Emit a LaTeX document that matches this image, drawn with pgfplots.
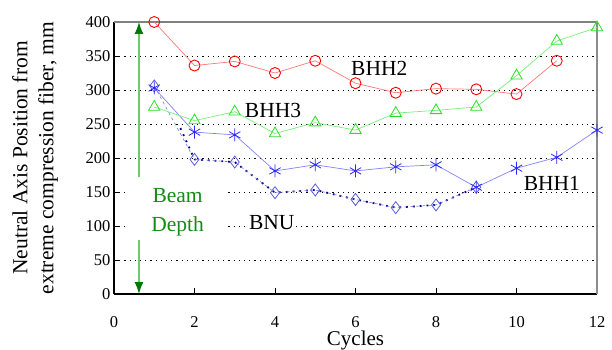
\documentclass[border=0pt]{standalone}
\usepackage{fontspec}
\setmainfont{Liberation Serif}
\usepackage{pgfplots}
\pgfplotsset{compat=1.18}
\usetikzlibrary{arrows.meta}
\definecolor{cRedM}{RGB}{255,0,0}
\definecolor{cRedL}{RGB}{255,120,120}
\definecolor{cGrnM}{RGB}{40,225,40}
\definecolor{cGrnL}{RGB}{120,240,120}
\definecolor{cBluM}{RGB}{40,40,255}
\definecolor{cBluL}{RGB}{130,130,255}
\definecolor{cDiaM}{RGB}{90,90,230}
\definecolor{cDiaL}{RGB}{120,120,220}
\definecolor{cNavy}{RGB}{0,0,140}
\definecolor{cBeam}{RGB}{20,140,20}
\definecolor{cShaft}{RGB}{110,200,110}
\definecolor{cHead}{RGB}{0,120,0}
\begin{document}
\begin{tikzpicture}
\begin{axis}[
  name=ax,
  scale only axis, width=483pt, height=272pt,
  xmin=0, xmax=12, ymin=0, ymax=400,
  xtick={0,2,...,12}, ytick={0,50,...,400},
  xticklabels={0,2,4,6,8,10,12},
  yticklabels={0,50,100,150,200,250,300,350,400},
  axis x line*=bottom, axis y line*=left,
  axis line style={black, line width=1.6pt, -},
  tick align=inside, major tick length=6pt,
  tick style={black, line width=0.7pt},
  ymajorgrids,
  grid style={black, line width=0.9pt, dash pattern=on 1.2pt off 4pt},
  font=\fontsize{16.5}{19}\selectfont,
  xticklabel style={inner sep=1pt, yshift=-21pt},
  xlabel={Cycles},
  xlabel style={at={(axis description cs:0.5,-0.191)}, anchor=base, inner sep=0pt, font=\fontsize{21}{24}\selectfont},
  ylabel={Neutral Axis Position from\\extreme compression fiber, mm},
  ylabel style={at={(axis description cs:-0.1636,0.5)}, anchor=center, rotate=0, align=center, font=\fontsize{21.5}{26}\selectfont},
  clip=false,
]
% frame top and right
\draw[gray, line width=1.2pt] (axis cs:0,400) -- (axis cs:12,400);
\draw[gray!90, line width=2pt] (axis cs:12,0) -- (axis cs:12,400);
% white box behind Beam Depth
\fill[white] (axis cs:0.27,79) rectangle (axis cs:2.8,172);
\node[text=cBeam, align=center, font=\fontsize{21.5}{29}\selectfont] at (axis cs:1.58,120) {Beam\\Depth};
\draw[cShaft, line width=1.3pt, -{Latex[length=12pt,width=9pt,color=cHead]}] (axis cs:0.62,172) -- (axis cs:0.62,400);
\draw[cShaft, line width=1.3pt, -{Latex[length=12pt,width=9pt,color=cHead]}] (axis cs:0.62,79) -- (axis cs:0.62,0);

% BNU dotted trend
\addplot[cNavy, line width=1.8pt, dash pattern=on 1.8pt off 5pt] coordinates {
(1.65,244)(2,198)(3,194)(4,149)(5,153)(6,139)(7,127)(8,131)(9,157)};
% BNU
\addplot[cDiaL, line width=0.6pt, dash pattern=on 3pt off 3pt, mark=diamond, mark size=6pt,
  mark options={cDiaM, solid, line width=0.8pt}] coordinates {
(1,306)(2,198)(3,194)(4,149)(5,153)(6,139)(7,127)(8,131)(9,157)};
% BHH1
\addplot[cBluL, line width=0.7pt, mark=asterisk, mark size=6.5pt,
  mark options={cBluM, solid, line width=0.8pt}] coordinates {
(1,303)(2,238)(3,234)(4,181)(5,190)(6,181)(7,187)(8,190)(9,157)(10,185)(11,201)(12,241)};
% BHH3
\addplot[cGrnL, line width=0.7pt, mark=triangle, mark size=6.5pt,
  mark options={cGrnM, solid, line width=0.8pt}] coordinates {
(1,275)(2,255)(3,268)(4,236)(5,252)(6,241)(7,266)(8,270)(9,275)(10,321)(11,372)(12,392)};
% BHH2
\addplot[cRedL, line width=0.7pt, mark=o, mark size=5.5pt,
  mark options={cRedM, solid, line width=0.9pt}] coordinates {
(1,400)(2,336)(3,342)(4,325)(5,343)(6,310)(7,296)(8,302)(9,301)(10,294)(11,343)};

\node[font=\fontsize{21.5}{24}\selectfont] at (axis cs:6.59,332) {BHH2};
\node[font=\fontsize{21.5}{24}\selectfont] at (axis cs:3.95,270) {BHH3};
\node[font=\fontsize{21.5}{24}\selectfont] at (axis cs:10.88,162) {BHH1};
\node[font=\fontsize{21.5}{24}\selectfont, fill=white, inner sep=1pt] at (axis cs:3.92,105) {BNU};
\end{axis}
\pgfresetboundingbox
\path[use as bounding box] ([xshift=-114pt,yshift=-56pt]ax.south west) rectangle ([xshift=15pt,yshift=22pt]ax.north east);
\end{tikzpicture}
\end{document}
